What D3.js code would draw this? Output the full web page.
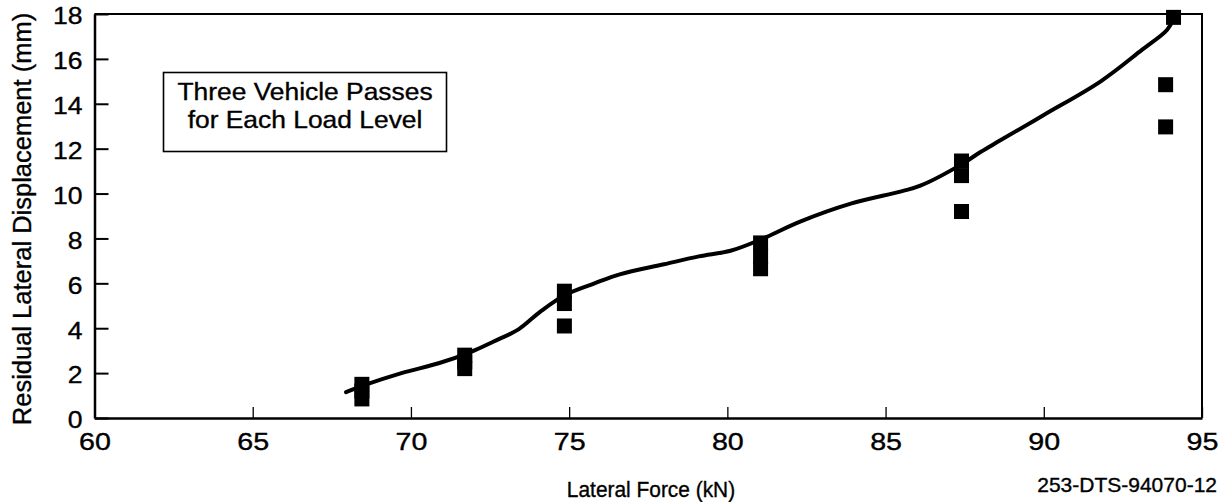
<!DOCTYPE html>
<html>
<head>
<meta charset="utf-8">
<script src="https://cdn.jsdelivr.net/npm/d3@7"></script>
<style>
  html, body { margin: 0; padding: 0; background: #fff; }
  svg { display: block; }
  text { font-family: "Liberation Sans", Arial, Helvetica, sans-serif; fill: #000; stroke: #000; stroke-width: 0.35px; }
</style>
</head>
<body>
<div id="chart"></div>
<script>
// ---- data ----
const xTicks = [60, 65, 70, 75, 80, 85, 90, 95];
const yTicks = [0, 2, 4, 6, 8, 10, 12, 14, 16, 18];

// measured passes (three vehicle passes per load level)
const passForce = [68.45, 68.45, 68.45, 71.7, 71.7, 71.7, 74.85, 74.85, 74.85,
                   81.05, 81.05, 81.05, 87.4, 87.4, 87.4, 94.1, 93.85, 93.85];
const passDisp  = [1.5, 1.2, 0.85, 2.8, 2.5, 2.2, 5.65, 5.1, 4.1,
                   7.8, 7.2, 6.65, 11.45, 10.8, 9.2, 17.85, 14.85, 12.97];

// hand-drawn trend curve
const curveForce = [67.95, 68.5, 69.7, 70.9, 71.9, 72.6, 73.4, 74.1, 74.9, 75.8, 76.6, 78.0,
                    79.1, 80.1, 81.05, 82.3, 83.9, 85.5, 86.1, 87.4, 88.0, 88.6, 90.0, 91.8,
                    93.1, 93.9, 94.1];
const curveDisp  = [1.15, 1.45, 2.0, 2.45, 2.95, 3.4, 3.95, 4.75, 5.5, 6.0, 6.4, 6.85,
                    7.2, 7.45, 7.95, 8.75, 9.55, 10.1, 10.35, 11.3, 11.85, 12.35, 13.5, 15.0,
                    16.4, 17.3, 17.8];

const xTitle = "Lateral Force (kN)";
const yTitle = "Residual Lateral Displacement (mm)";
const noteLines = ["Three Vehicle Passes", "for Each Load Level"];
const caption = "253-DTS-94070-12";

// ---- layout ----
const W = 1226, H = 502;
const L = 94.5, R = 1202, T = 14, B = 418;

const svg = d3.select("#chart").append("svg").attr("width", W).attr("height", H);

const x = d3.scaleLinear().domain([60, 95]).range([L, R]);
const y = d3.scaleLinear().domain([0, 18]).range([B, T]);

// frame (top & right)
svg.append("path")
  .attr("d", `M${L},${T}H${R}V${B}`)
  .attr("fill", "none").attr("stroke", "#000").attr("stroke-width", 2);

// y axis
const yAxis = svg.append("g").attr("transform", `translate(${L},0)`)
  .call(d3.axisLeft(y).tickValues(yTicks).tickSize(-14).tickSizeOuter(0).tickPadding(12).tickFormat(d3.format("d")));
yAxis.select(".domain").attr("stroke-width", 2.5);
yAxis.selectAll(".tick line").attr("stroke-width", 2);
yAxis.selectAll(".tick text")
  .attr("font-size", 23.5).attr("font-family", null)
  .attr("dy", "0.42em")
  .attr("transform", "scale(1.13,1)")
  .attr("x", -12 / 1.13);

// x axis
const xAxis = svg.append("g").attr("transform", `translate(0,${B})`)
  .call(d3.axisBottom(x).tickValues(xTicks).tickSize(-11).tickSizeOuter(0).tickPadding(15).tickFormat(d3.format("d")));
xAxis.select(".domain").attr("stroke-width", 2.5);
xAxis.selectAll(".tick line").attr("stroke-width", 1.3);
xAxis.selectAll(".tick text")
  .attr("font-size", 23.5).attr("font-family", null)
  .attr("transform", "scale(1.22,1)");

// axis titles
svg.append("text")
  .attr("transform", `translate(31,219) rotate(-90)`)
  .attr("text-anchor", "middle").attr("font-size", 25.5)
  .text(yTitle);

svg.append("text")
  .attr("transform", "translate(651,497) scale(0.95,1)")
  .attr("text-anchor", "middle").attr("font-size", 22)
  .text(xTitle);

svg.append("text")
  .attr("x", 1217).attr("y", 492)
  .attr("text-anchor", "end").attr("font-size", 21)
  .text(caption);

// note box
svg.append("rect")
  .attr("x", 163.5).attr("y", 72.5).attr("width", 283).attr("height", 79)
  .attr("fill", "#fff").attr("stroke", "#000").attr("stroke-width", 1.6);
const note = svg.append("g").attr("transform", "translate(305,0)");
note.selectAll("text").data(noteLines).join("text")
  .attr("x", 0).attr("y", (d, i) => 100 + i * 28.5)
  .attr("text-anchor", "middle").attr("font-size", 24)
  .attr("transform", "scale(1.1,1)")
  .text(d => d);

// curve
const line = d3.line().curve(d3.curveCatmullRom.alpha(0.5))
  .x(d => x(d[0])).y(d => y(d[1]));
svg.append("path")
  .datum(curveForce.map((f, i) => [f, curveDisp[i]]))
  .attr("d", line)
  .attr("fill", "none").attr("stroke", "#000").attr("stroke-width", 4)
  .attr("stroke-linecap", "round").attr("stroke-linejoin", "round");

// squares
const S = 15;
svg.append("g").selectAll("rect")
  .data(passForce.map((f, i) => [f, passDisp[i]]))
  .join("rect")
  .attr("x", d => x(d[0]) - S / 2).attr("y", d => y(d[1]) - S / 2)
  .attr("width", S).attr("height", S).attr("fill", "#000");
</script>
</body>
</html>
